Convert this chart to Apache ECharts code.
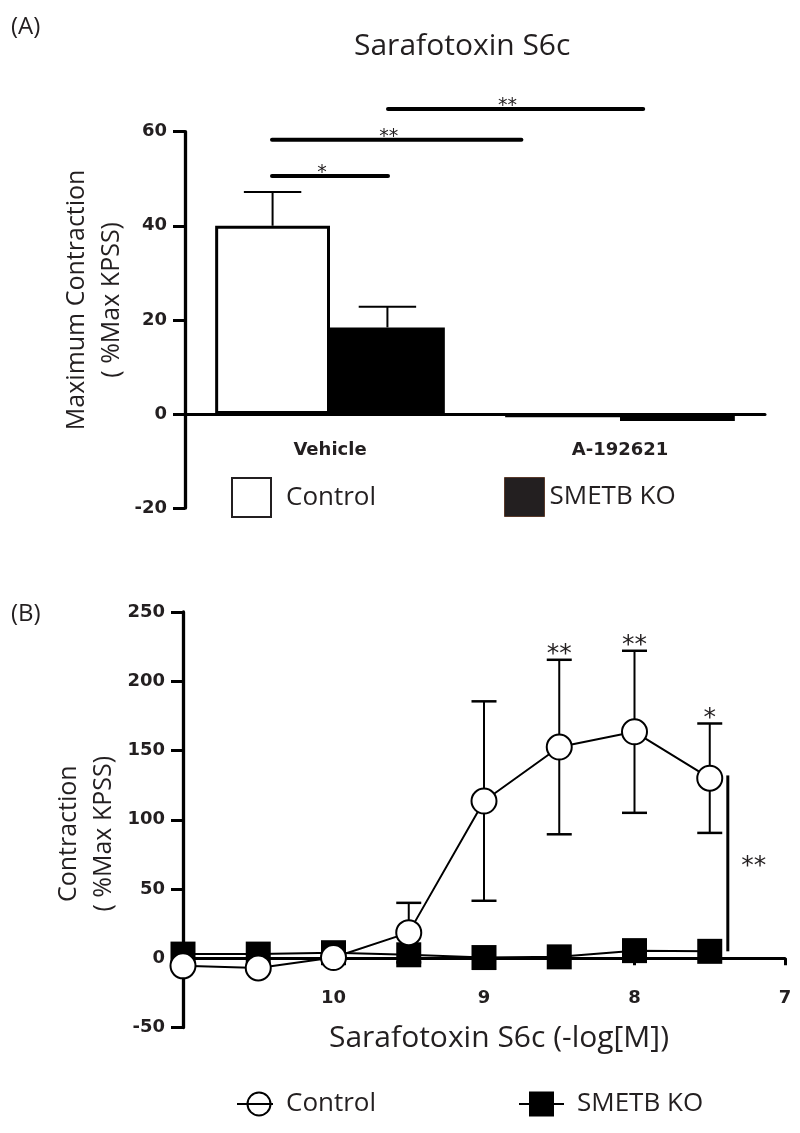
<!DOCTYPE html>
<html>
<head>
<meta charset="utf-8">
<script src="https://cdn.jsdelivr.net/npm/echarts@6/dist/echarts.min.js"></script>
<style>
html,body{margin:0;padding:0;background:#fff;}
#chart{width:800px;height:1133px;}
</style>
</head>
<body>
<div id="chart"></div>
<script>
// ---------- Panel A data ----------
const barCategories = ['Vehicle', 'A-192621'];
const barControl = [40, -0.7];
const barControlSem = [7.2, 0];
const barKO = [18.4, -1.5];
const barKOSem = [4.4, 0];
const barYTicks = [-20, 0, 20, 40, 60];
// significance brackets (category units, value units)
const barSigLabels = ['*', '**', '**'];
const barSigFrom = [-0.2, -0.2, 0.2];
const barSigTo = [0.2, 0.66, 1.08];
const barSigValue = [50.6, 58.3, 64.8];

// ---------- Panel B data ----------
const doseLog = [11, 10.5, 10, 9.5, 9, 8.5, 8, 7.5];
const doseTicks = [10, 9, 8, 7];
const curveYTicks = [-50, 0, 50, 100, 150, 200, 250];
const curveControl = [-5.5, -7, 0.5, 18.5, 113.5, 152.5, 163.5, 130];
const curveControlSem = [null, null, null, 21.5, 72, 63, 58.5, 39.5];
const curveKO = [3, 3, 4, 2.5, 0.5, 1, 5.5, 5];
const curveStars = ['', '', '', '', '', '**', '**', '*'];
const curveSigLabel = '**';
const curveSigDose = 7.38;
const curveSigRange = [5, 132];

// ---------- helpers ----------
const TXT = '#231f20';
const SANS = 'Open Sans';
const TICKFONT = 'DejaVu Sans';
const BAR_FRAC = 0.396;          // bar width as fraction of category band
const OFF = BAR_FRAC / 2;        // bar centre offset from band centre

const barErrData = [];
barCategories.forEach((c, i) => {
  if (barControlSem[i]) barErrData.push([i - OFF, barControl[i], barControlSem[i]]);
  if (barKOSem[i]) barErrData.push([i + OFF, barKO[i], barKOSem[i]]);
});
const barSigData = barSigLabels.map((l, i) => [barSigFrom[i], barSigTo[i], barSigValue[i], i]);

const ctrlLine = doseLog.map((d, i) => [d, curveControl[i]]);
const koLine = doseLog.map((d, i) => [d, curveKO[i]]);
const curveErrData = [];
doseLog.forEach((d, i) => {
  if (curveControlSem[i] != null) curveErrData.push([d, curveControl[i], curveControlSem[i], i]);
});

// grid geometry
const gridA = {left: 185, right: 35, top: 131.7, bottom: 625};
const gridB = {left: 183, right: 15, top: 612, bottom: 105.5};
const H = 1133;
function zeroOffset(g, ticks) {
  const h = H - g.top - g.bottom;
  const lo = ticks[0], hi = ticks[ticks.length - 1];
  return -h * (0 - lo) / (hi - lo);   // move x axis from grid bottom up to value 0
}

const controlIcon = 'path://M0,12 H36 M10.5,12 A11.5,11.5 0 1,0 33.5,12 A11.5,11.5 0 1,0 10.5,12 Z';
const koIcon = 'path://M0,12 H45 M11,0.5 H34 V23.5 H11 Z';

const axisTickLabel = {fontFamily: TICKFONT, fontWeight: 'bold', fontSize: 18, color: TXT};
const legendText = {fontFamily: SANS, fontSize: 26, color: TXT};

const chart = echarts.init(document.getElementById('chart'), null, {renderer: 'canvas'});

const option = {
  animation: false,
  backgroundColor: '#fff',
  title: [
    {text: '(A)', left: 11, top: 15, padding: 0,
     textStyle: {fontFamily: SANS, fontWeight: 'normal', fontSize: 24, color: TXT}},
    {text: 'Sarafotoxin S6c', left: 354, top: 31, padding: 0,
     textStyle: {fontFamily: SANS, fontWeight: 'normal', fontSize: 30, color: TXT}},
    {text: '(B)', left: 11, top: 602, padding: 0,
     textStyle: {fontFamily: SANS, fontWeight: 'normal', fontSize: 24, color: TXT}}
  ],
  legend: [
    {data: [{name: 'Control', icon: 'rect', itemStyle: {color: '#fff', borderColor: TXT, borderWidth: 2}}],
     left: 226, top: 472, itemWidth: 39, itemHeight: 39, selectedMode: false,
     textStyle: Object.assign({padding: [0, 0, 0, 10]}, legendText)},
    {data: [{name: 'SMETB KO', icon: 'rect', itemStyle: {color: '#231f20', borderColor: '#5a3a2a', borderWidth: 1}}],
     left: 499, top: 472, itemWidth: 40, itemHeight: 39, selectedMode: false,
     textStyle: Object.assign({padding: [0, 0, 0, 0]}, legendText)},
    {data: [{name: 'Control', icon: controlIcon, itemStyle: {color: '#fff', borderColor: '#000', borderWidth: 2}}],
     left: 231, top: 1086, itemWidth: 36, itemHeight: 24, selectedMode: false,
     textStyle: Object.assign({padding: [0, 0, 0, 8]}, legendText)},
    {data: [{name: 'SMETB KO', icon: koIcon, itemStyle: {color: '#000', borderColor: '#000', borderWidth: 2}}],
     left: 513, top: 1086, itemWidth: 45, itemHeight: 24, selectedMode: false,
     textStyle: Object.assign({padding: [0, 0, 0, 8]}, legendText)}
  ],
  grid: [gridA, gridB],
  xAxis: [
    {type: 'category', gridIndex: 0, data: barCategories,
     offset: zeroOffset(gridA, barYTicks),
     axisLine: {onZero: false, lineStyle: {color: '#000', width: 3}},
     axisTick: {alignWithLabel: true, length: 7, lineStyle: {color: '#000', width: 3}},
     axisLabel: Object.assign({margin: 27}, axisTickLabel),
     splitLine: {show: false}},
    {type: 'value', gridIndex: 0, min: -0.5, max: 1.5, show: false},
    {type: 'value', gridIndex: 1, min: 7, max: 11, interval: 1, inverse: true,
     offset: zeroOffset(gridB, curveYTicks),
     axisLine: {onZero: false, lineStyle: {color: '#000', width: 3}},
     axisTick: {length: 7, lineStyle: {color: '#000', width: 3}},
     axisLabel: Object.assign({margin: 31, formatter: v => (doseTicks.indexOf(v) >= 0 ? String(v) : '')}, axisTickLabel),
     splitLine: {show: false},
     name: 'Sarafotoxin S6c (-log[M])', nameLocation: 'middle', nameGap: 65, nameMoveOverlap: false,
     nameTextStyle: {fontFamily: SANS, fontSize: 30, color: TXT, padding: [0, 0, 0, 30]}}
  ],
  yAxis: [
    {type: 'value', gridIndex: 0, min: barYTicks[0], max: barYTicks[barYTicks.length - 1],
     interval: barYTicks[1] - barYTicks[0],
     axisLine: {show: true, onZero: false, lineStyle: {color: '#000', width: 3.3}},
     axisTick: {show: true, length: 12, lineStyle: {color: '#000', width: 3}},
     axisLabel: Object.assign({margin: 18}, axisTickLabel),
     splitLine: {show: false},
     name: 'Maximum Contraction\n( %Max KPSS)', nameLocation: 'middle', nameRotate: 90, nameGap: 56,
     nameMoveOverlap: false,
     nameTextStyle: {fontFamily: SANS, fontSize: 25, lineHeight: 35, color: TXT, padding: [0, 0, 0, 40]}},
    {type: 'value', gridIndex: 1, min: curveYTicks[0], max: curveYTicks[curveYTicks.length - 1],
     interval: curveYTicks[1] - curveYTicks[0],
     axisLine: {show: true, onZero: false, lineStyle: {color: '#000', width: 3.3}},
     axisTick: {show: true, length: 12, lineStyle: {color: '#000', width: 3}},
     axisLabel: Object.assign({margin: 18}, axisTickLabel),
     splitLine: {show: false},
     name: 'Contraction\n( %Max KPSS)', nameLocation: 'middle', nameRotate: 90, nameGap: 62,
     nameMoveOverlap: false,
     nameTextStyle: {fontFamily: SANS, fontSize: 25, lineHeight: 35, color: TXT, padding: [0, 28, 0, 0]}}
  ],
  series: [
    {type: 'bar', name: 'Control', xAxisIndex: 0, yAxisIndex: 0, data: barControl,
     barWidth: (BAR_FRAC * 100) + '%', barGap: '0%',
     itemStyle: {color: '#fff', borderColor: '#000', borderWidth: 3}, z: 3},
    {type: 'bar', name: 'SMETB KO', xAxisIndex: 0, yAxisIndex: 0, data: barKO,
     barWidth: (BAR_FRAC * 100) + '%', barGap: '0%',
     itemStyle: {color: '#000'}, z: 2},
    {type: 'custom', name: 'barErr', xAxisIndex: 1, yAxisIndex: 0, data: barErrData, z: 4,
     renderItem: function (params, api) {
       const x = api.value(0), v = api.value(1), e = api.value(2);
       const base = api.coord([x, v]);
       const top = api.coord([x, v + e]);
       const hw = (api.coord([x + OFF / 2, v])[0] - base[0]);
       return {type: 'group', children: [
         {type: 'line', shape: {x1: base[0], y1: base[1], x2: top[0], y2: top[1]}, style: {stroke: '#000', lineWidth: 2}},
         {type: 'line', shape: {x1: top[0] - hw, y1: top[1], x2: top[0] + hw, y2: top[1]}, style: {stroke: '#000', lineWidth: 2}}
       ]};
     }},
    {type: 'custom', name: 'barSig', xAxisIndex: 1, yAxisIndex: 0, data: barSigData, z: 4,
     renderItem: function (params, api) {
       const a = api.coord([api.value(0), api.value(2)]);
       const b = api.coord([api.value(1), api.value(2)]);
       const label = barSigLabels[api.value(3)];
       return {type: 'group', children: [
         {type: 'line', shape: {x1: a[0], y1: a[1], x2: b[0], y2: b[1]}, style: {stroke: '#000', lineWidth: 4, lineCap: 'round'}},
         {type: 'text', style: {text: label, x: (a[0] + b[0]) / 2 - 8, y: a[1] - 3, align: 'center', verticalAlign: 'middle',
           font: '19px "DejaVu Sans"', fill: TXT}}
       ]};
     }},
    {type: 'custom', name: 'curveErr', xAxisIndex: 2, yAxisIndex: 1, data: curveErrData, z: 2,
     renderItem: function (params, api) {
       const x = api.value(0), v = api.value(1), e = api.value(2);
       const top = api.coord([x, v + e]);
       const bot = api.coord([x, v - e]);
       const hw = 12.5;
       const star = curveStars[api.value(3)];
       const ch = [
         {type: 'line', shape: {x1: top[0], y1: top[1], x2: bot[0], y2: bot[1]}, style: {stroke: '#000', lineWidth: 2}},
         {type: 'line', shape: {x1: top[0] - hw, y1: top[1], x2: top[0] + hw, y2: top[1]}, style: {stroke: '#000', lineWidth: 2.5}},
         {type: 'line', shape: {x1: bot[0] - hw, y1: bot[1], x2: bot[0] + hw, y2: bot[1]}, style: {stroke: '#000', lineWidth: 2.5}}
       ];
       if (star) ch.push({type: 'text', style: {text: star, x: top[0], y: top[1] - 5, align: 'center', verticalAlign: 'middle',
         font: '25px "DejaVu Sans"', fill: TXT}});
       return {type: 'group', children: ch};
     }},
    {type: 'line', name: 'SMETB KO', xAxisIndex: 2, yAxisIndex: 1, data: koLine, z: 3,
     symbol: 'rect', symbolSize: 25, showAllSymbol: true, clip: false,
     lineStyle: {color: '#000', width: 2}, itemStyle: {color: '#000'}},
    {type: 'line', name: 'Control', xAxisIndex: 2, yAxisIndex: 1, data: ctrlLine, z: 4,
     symbol: 'circle', symbolSize: 25, showAllSymbol: true, clip: false,
     lineStyle: {color: '#000', width: 2}, itemStyle: {color: '#fff', borderColor: '#000', borderWidth: 2}},
    {type: 'custom', name: 'curveSig', xAxisIndex: 2, yAxisIndex: 1,
     data: [[curveSigDose, curveSigRange[0], curveSigRange[1]]], z: 4,
     renderItem: function (params, api) {
       const a = api.coord([api.value(0), api.value(1)]);
       const b = api.coord([api.value(0), api.value(2)]);
       return {type: 'group', children: [
         {type: 'line', shape: {x1: a[0], y1: a[1], x2: b[0], y2: b[1]}, style: {stroke: '#000', lineWidth: 3}},
         {type: 'text', style: {text: curveSigLabel, x: a[0] + 26, y: (a[1] + b[1]) / 2 + 3, align: 'center', verticalAlign: 'middle',
           font: '25px "DejaVu Sans"', fill: TXT}}
       ]};
     }}
  ]
};
chart.setOption(option);
</script>
</body>
</html>
